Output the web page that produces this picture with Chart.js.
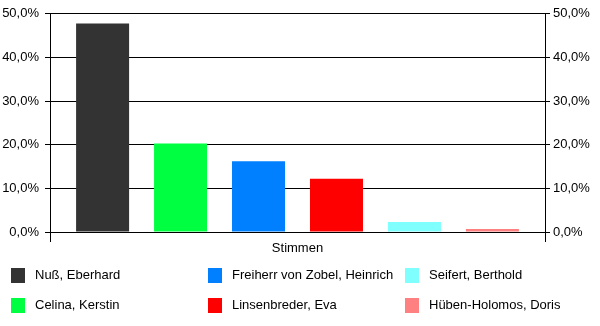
<!DOCTYPE html>
<html>
<head>
<meta charset="utf-8">
<script src="https://cdn.jsdelivr.net/npm/chart.js@4/dist/chart.umd.min.js"></script>
<style>
  html, body { margin: 0; padding: 0; background: #fff; }
  #wrap { position: relative; width: 600px; height: 326px; overflow: hidden; }
  #c { position: absolute; left: 0; top: 0; }
  .lg { position: absolute; font-family: "Liberation Sans", Arial, sans-serif; font-size: 13px; line-height: 15px; color: #000; white-space: nowrap; }
  .sw { position: absolute; width: 14px; height: 15px; }
</style>
</head>
<body>
<div id="wrap">
  <canvas id="c" width="600" height="326"></canvas>
  <div id="legend"></div>
</div>
<script>
// Vote shares per candidate, in percent
const categories = ['Stimmen'];
const candidates = [
  'Nuß, Eberhard',
  'Celina, Kerstin',
  'Freiherr von Zobel, Heinrich',
  'Linsenbreder, Eva',
  'Seifert, Berthold',
  'Hüben-Holomos, Doris'
];
const shares = [47.8, 20.3, 16.2, 12.2, 2.3, 0.7];
const yTicks = [0, 10, 20, 30, 40, 50];

// Bar / legend colours, one per candidate
const palette = ['#333333', '#00FF40', '#0080FF', '#FF0000', '#80FFFF', '#FF8080'];

const FONT = { family: '"Liberation Sans", Arial, sans-serif', size: 13 };
const fmt = v => v.toFixed(1).replace('.', ',') + '%';
const fixTicks = axis => { axis.ticks = yTicks.map(v => ({ value: v })); };

const datasets = candidates.map((name, i) => ({
  label: name,
  data: [shares[i]],
  backgroundColor: palette[i],
  borderWidth: 0,
  barPercentage: 0.68,
  categoryPercentage: 0.945
}));

new Chart(document.getElementById('c'), {
  type: 'bar',
  data: { labels: categories, datasets },
  options: {
    responsive: false,
    animation: false,
    devicePixelRatio: 1,
    layout: { padding: { top: 10, left: 0, right: 0, bottom: 0 } },
    plugins: { legend: { display: false }, tooltip: { enabled: false } },
    scales: {
      x: {
        offset: true,
        grid: { offset: true, drawOnChartArea: false, drawTicks: true, tickLength: 10, color: '#000', lineWidth: 1 },
        border: { display: true, color: '#000' },
        ticks: { color: '#000', font: FONT, padding: -1 },
        afterFit: s => { s.height = 94; }
      },
      y: {
        position: 'left',
        min: 0, max: 50,
        afterBuildTicks: fixTicks,
        grid: { color: '#000', lineWidth: 1, tickLength: 5 },
        border: { display: true, color: '#000' },
        ticks: { color: '#000', font: FONT, padding: 6, callback: fmt },
        afterFit: s => { s.width = 50; }
      },
      y2: {
        position: 'right',
        min: 0, max: 50,
        afterBuildTicks: fixTicks,
        grid: { drawOnChartArea: false, color: '#000', lineWidth: 1, tickLength: 5 },
        border: { display: true, color: '#000' },
        ticks: { color: '#000', font: FONT, padding: 3, callback: fmt },
        afterFit: s => { s.width = 55; }
      }
    }
  }
});

// Legend laid out in three columns, filled top to bottom
const legend = document.getElementById('legend');
const colX = [11, 208, 405];
const rowY = [268, 298];
candidates.forEach((name, i) => {
  const col = Math.floor(i / 2), row = i % 2;
  const sw = document.createElement('div');
  sw.className = 'sw';
  sw.style.left = colX[col] + 'px';
  sw.style.top = rowY[row] + 'px';
  sw.style.background = palette[i];
  legend.appendChild(sw);
  const tx = document.createElement('div');
  tx.className = 'lg';
  tx.style.left = (colX[col] + 24) + 'px';
  tx.style.top = (rowY[row] - 1) + 'px';
  tx.textContent = name;
  legend.appendChild(tx);
});
</script>
</body>
</html>
